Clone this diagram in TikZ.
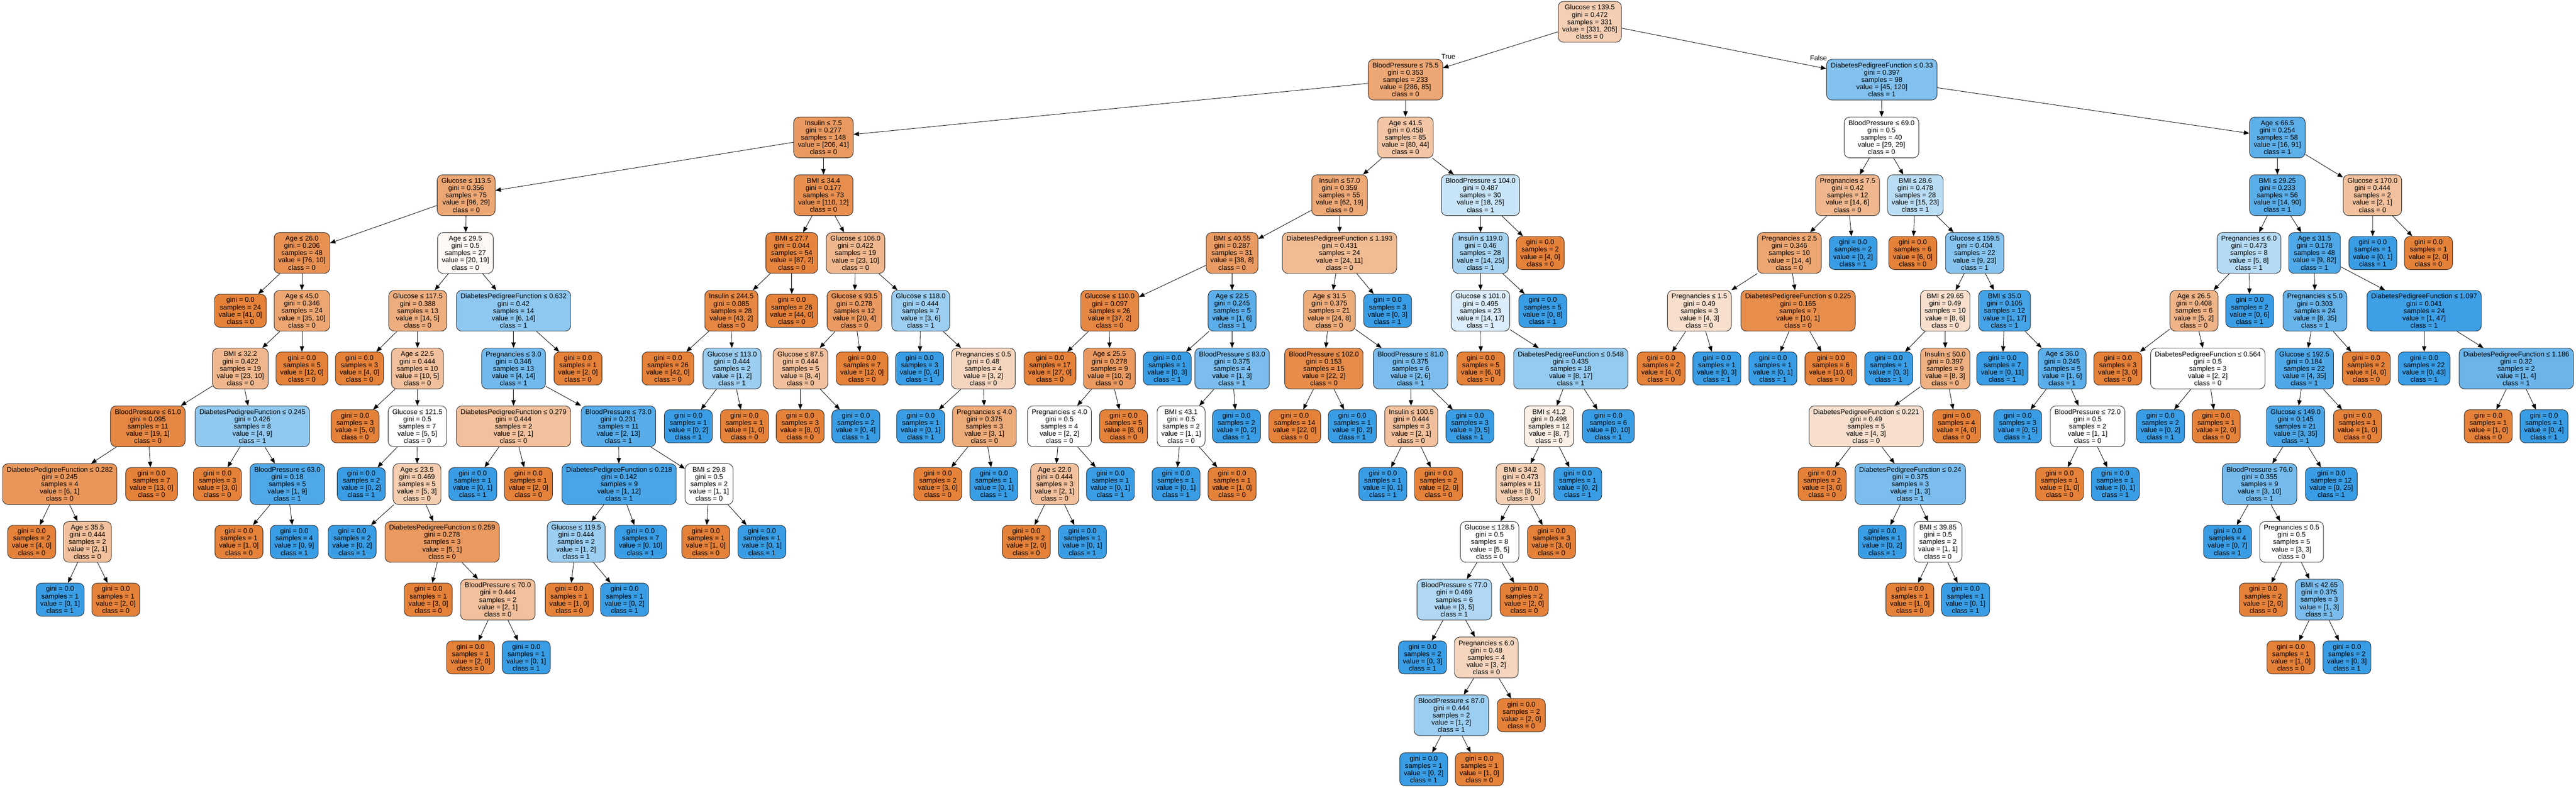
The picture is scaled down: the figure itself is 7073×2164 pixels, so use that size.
\documentclass[tikz,border=0pt]{standalone}
\usepackage{fontspec}
\setmainfont{Liberation Sans}
\usetikzlibrary{arrows.meta}
\definecolor{czero}{RGB}{229,129,57}
\definecolor{cone}{RGB}{57,157,229}
\newcommand\setfill[2]{%
  \pgfmathtruncatemacro\cmpv{(#1>=#2) ? 1 : 0}%
  \ifnum\cmpv=1\relax
    \pgfmathtruncatemacro\pctv{round((#1-#2)/#1*100)}%
    \colorlet{nodefill}{czero!\pctv!white}\def\clsv{0}%
  \else
    \pgfmathtruncatemacro\pctv{round((#2-#1)/#2*100)}%
    \colorlet{nodefill}{cone!\pctv!white}\def\clsv{1}%
  \fi}
% split node: name, parent, x, depth, condition, gini, samples, v0, v1
\newcommand\SN[9]{%
  \setfill{#8}{#9}%
  \pgfmathsetmacro\yy{(#4<13) ? 60+158.7*#4 : 2113}%
  \node[split, fill=nodefill] (#1) at (#3,\yy) {#5\\gini = #6\\samples = #7\\value = [#8, #9]\\class = \clsv};
  \ifx\relax#2\relax\else\draw[edge] (#2) -- (#1);\fi}
% leaf node: name, parent, x, depth, samples, v0, v1
\newcommand\LN[7]{%
  \setfill{#6}{#7}%
  \pgfmathsetmacro\yy{(#4<13) ? 60+158.7*#4 : 2113}%
  \node[leaf, fill=nodefill] (#1) at (#3,\yy) {gini = 0.0\\samples = #5\\value = [#6, #7]\\class = \clsv};
  \draw[edge] (#2) -- (#1);}
\tikzset{
  box/.style={draw=black!85, line width=0.26pt, rounded corners=3pt, align=center,
    inner xsep=2.3pt, inner ysep=0pt, font=\fontsize{3.78}{4}\selectfont},
  split/.style={box, minimum height=22.4pt},
  leaf/.style={box, minimum height=18.2pt},
  edge/.style={draw=black, line width=0.24pt, -{Triangle[length=3pt,width=2.4pt]}},
  elabel/.style={font=\fontsize{3.78}{4}\selectfont, inner sep=0pt}
}
\begin{document}
\begin{tikzpicture}[x=0.2pt,y=-0.2pt]
\useasboundingbox (0,0) rectangle (7073,2164);
\SN{r}{}{4365}{0}{Glucose ≤ 139.5}{0.472}{331}{331}{205}
\SN{r0}{r}{3859}{1}{BloodPressure ≤ 75.5}{0.353}{233}{286}{85}
\SN{r00}{r0}{2261}{2}{Insulin ≤ 7.5}{0.277}{148}{206}{41}
\SN{r000}{r00}{1280}{3}{Glucose ≤ 113.5}{0.356}{75}{96}{29}
\SN{r0000}{r000}{829}{4}{Age ≤ 26.0}{0.206}{48}{76}{10}
\LN{r00000}{r0000}{660}{5}{24}{41}{0}
\SN{r00001}{r0000}{829}{5}{Age ≤ 45.0}{0.346}{24}{35}{10}
\SN{r000010}{r00001}{660}{6}{BMI ≤ 32.2}{0.422}{19}{23}{10}
\SN{r0000100}{r000010}{406}{7}{BloodPressure ≤ 61.0}{0.095}{11}{19}{1}
\SN{r00001000}{r0000100}{164}{8}{DiabetesPedigreeFunction ≤ 0.282}{0.245}{4}{6}{1}
\LN{r000010000}{r00001000}{87}{9}{2}{4}{0}
\SN{r000010001}{r00001000}{240}{9}{Age ≤ 35.5}{0.444}{2}{2}{1}
\LN{r0000100010}{r000010001}{165}{10}{1}{0}{1}
\LN{r0000100011}{r000010001}{318}{10}{1}{2}{0}
\LN{r00001001}{r0000100}{416}{8}{7}{13}{0}
\SN{r0000101}{r000010}{693}{7}{DiabetesPedigreeFunction ≤ 0.245}{0.426}{8}{4}{9}
\LN{r00001010}{r0000101}{597}{8}{3}{3}{0}
\SN{r00001011}{r0000101}{789}{8}{BloodPressure ≤ 63.0}{0.18}{5}{1}{9}
\LN{r000010110}{r00001011}{656}{9}{1}{1}{0}
\LN{r000010111}{r00001011}{808}{9}{4}{0}{9}
\LN{r000011}{r00001}{829}{6}{5}{12}{0}
\SN{r0001}{r000}{1278}{4}{Age ≤ 29.5}{0.5}{27}{20}{19}
\SN{r00010}{r0001}{1147}{5}{Glucose ≤ 117.5}{0.388}{13}{14}{5}
\LN{r000100}{r00010}{987}{6}{3}{4}{0}
\SN{r000101}{r00010}{1146}{6}{Age ≤ 22.5}{0.444}{10}{10}{5}
\LN{r0001010}{r000101}{975}{7}{3}{5}{0}
\SN{r0001011}{r000101}{1146}{7}{Glucose ≤ 121.5}{0.5}{7}{5}{5}
\LN{r00010110}{r0001011}{992}{8}{2}{0}{2}
\SN{r00010111}{r0001011}{1145}{8}{Age ≤ 23.5}{0.469}{5}{5}{3}
\LN{r000101110}{r00010111}{967}{9}{2}{0}{2}
\SN{r000101111}{r00010111}{1214}{9}{DiabetesPedigreeFunction ≤ 0.259}{0.278}{3}{5}{1}
\LN{r0001011110}{r000101111}{1176}{10}{1}{3}{0}
\SN{r0001011111}{r000101111}{1367}{10}{BloodPressure ≤ 70.0}{0.444}{2}{2}{1}
\LN{r00010111110}{r0001011111}{1292}{11}{1}{2}{0}
\LN{r00010111111}{r0001011111}{1445}{11}{1}{0}{1}
\SN{r00011}{r0001}{1410}{5}{DiabetesPedigreeFunction ≤ 0.632}{0.42}{14}{6}{14}
\SN{r000110}{r00011}{1410}{6}{Pregnancies ≤ 3.0}{0.346}{13}{4}{14}
\SN{r0001100}{r000110}{1410}{7}{DiabetesPedigreeFunction ≤ 0.279}{0.444}{2}{2}{1}
\LN{r00011000}{r0001100}{1298}{8}{1}{0}{1}
\LN{r00011001}{r0001100}{1451}{8}{1}{2}{0}
\SN{r0001101}{r000110}{1698}{7}{BloodPressure ≤ 73.0}{0.231}{11}{2}{13}
\SN{r00011010}{r0001101}{1700}{8}{DiabetesPedigreeFunction ≤ 0.218}{0.142}{9}{1}{12}
\SN{r000110100}{r00011010}{1582}{9}{Glucose ≤ 119.5}{0.444}{2}{1}{2}
\LN{r0001101000}{r000110100}{1563}{10}{1}{1}{0}
\LN{r0001101001}{r000110100}{1715}{10}{1}{0}{2}
\LN{r000110101}{r00011010}{1759}{9}{7}{0}{10}
\SN{r00011011}{r0001101}{1947}{8}{BMI ≤ 29.8}{0.5}{2}{1}{1}
\LN{r000110110}{r00011011}{1938}{9}{1}{1}{0}
\LN{r000110111}{r00011011}{2092}{9}{1}{0}{1}
\LN{r000111}{r00011}{1587}{6}{1}{2}{0}
\SN{r001}{r00}{2261}{3}{BMI ≤ 34.4}{0.177}{73}{110}{12}
\SN{r0010}{r001}{2174}{4}{BMI ≤ 27.7}{0.044}{54}{87}{2}
\SN{r00100}{r0010}{2008}{5}{Insulin ≤ 244.5}{0.085}{28}{43}{2}
\LN{r001000}{r00100}{1834}{6}{26}{42}{0}
\SN{r001001}{r00100}{2010}{6}{Glucose ≤ 113.0}{0.444}{2}{1}{2}
\LN{r0010010}{r001001}{1890}{7}{1}{0}{2}
\LN{r0010011}{r001001}{2044}{7}{1}{1}{0}
\LN{r00101}{r0010}{2174}{5}{26}{44}{0}
\SN{r0011}{r001}{2349}{4}{Glucose ≤ 106.0}{0.422}{19}{23}{10}
\SN{r00110}{r0011}{2346}{5}{Glucose ≤ 93.5}{0.278}{12}{20}{4}
\SN{r001100}{r00110}{2198}{6}{Glucose ≤ 87.5}{0.444}{5}{8}{4}
\LN{r0011000}{r001100}{2197}{7}{3}{8}{0}
\LN{r0011001}{r001100}{2350}{7}{2}{0}{4}
\LN{r001101}{r00110}{2367}{6}{7}{12}{0}
\SN{r00111}{r0011}{2528}{5}{Glucose ≤ 118.0}{0.444}{7}{3}{6}
\LN{r001110}{r00111}{2525}{6}{3}{0}{4}
\SN{r001111}{r00111}{2700}{6}{Pregnancies ≤ 0.5}{0.48}{4}{3}{2}
\LN{r0011110}{r001111}{2528}{7}{1}{0}{1}
\SN{r0011111}{r001111}{2703}{7}{Pregnancies ≤ 4.0}{0.375}{3}{3}{1}
\LN{r00111110}{r0011111}{2575}{8}{2}{3}{0}
\LN{r00111111}{r0011111}{2729}{8}{1}{0}{1}
\SN{r01}{r0}{3859}{2}{Age ≤ 41.5}{0.458}{85}{80}{44}
\SN{r010}{r01}{3678}{3}{Insulin ≤ 57.0}{0.359}{55}{62}{19}
\SN{r0100}{r010}{3383}{4}{BMI ≤ 40.55}{0.287}{31}{38}{8}
\SN{r01000}{r0100}{3047}{5}{Glucose ≤ 110.0}{0.097}{26}{37}{2}
\LN{r010000}{r01000}{2883}{6}{17}{27}{0}
\SN{r010001}{r01000}{3046}{6}{Age ≤ 25.5}{0.278}{9}{10}{2}
\SN{r0100010}{r010001}{2909}{7}{Pregnancies ≤ 4.0}{0.5}{4}{2}{2}
\SN{r01000100}{r0100010}{2896}{8}{Age ≤ 22.0}{0.444}{3}{2}{1}
\LN{r010001000}{r01000100}{2818}{9}{2}{2}{0}
\LN{r010001001}{r01000100}{2972}{9}{1}{0}{1}
\LN{r01000101}{r0100010}{3049}{8}{1}{0}{1}
\LN{r0100011}{r010001}{3085}{7}{5}{8}{0}
\SN{r01001}{r0100}{3383}{5}{Age ≤ 22.5}{0.245}{5}{1}{6}
\LN{r010010}{r01001}{3205}{6}{1}{0}{3}
\SN{r010011}{r01001}{3383}{6}{BloodPressure ≤ 83.0}{0.375}{4}{1}{3}
\SN{r0100110}{r010011}{3243}{7}{BMI ≤ 43.1}{0.5}{2}{1}{1}
\LN{r01001100}{r0100110}{3229}{8}{1}{0}{1}
\LN{r01001101}{r0100110}{3383}{8}{1}{1}{0}
\LN{r0100111}{r010011}{3395}{7}{2}{0}{2}
\SN{r0101}{r010}{3678}{4}{DiabetesPedigreeFunction ≤ 1.193}{0.431}{24}{24}{11}
\SN{r01010}{r0101}{3650}{5}{Age ≤ 31.5}{0.375}{21}{24}{8}
\SN{r010100}{r01010}{3635}{6}{BloodPressure ≤ 102.0}{0.153}{15}{22}{2}
\LN{r0101000}{r010100}{3555}{7}{14}{22}{0}
\LN{r0101001}{r010100}{3713}{7}{1}{0}{2}
\SN{r010101}{r01010}{3873}{6}{BloodPressure ≤ 81.0}{0.375}{6}{2}{6}
\SN{r0101010}{r010101}{3875}{7}{Insulin ≤ 100.5}{0.444}{3}{2}{1}
\LN{r01010100}{r0101010}{3797}{8}{1}{0}{1}
\LN{r01010101}{r0101010}{3950}{8}{2}{2}{0}
\LN{r0101011}{r010101}{4036}{7}{3}{0}{5}
\LN{r01011}{r0101}{3810}{5}{3}{0}{3}
\SN{r011}{r01}{4065}{3}{BloodPressure ≤ 104.0}{0.487}{30}{18}{25}
\SN{r0110}{r011}{4065}{4}{Insulin ≤ 119.0}{0.46}{28}{14}{25}
\SN{r01100}{r0110}{4065}{5}{Glucose ≤ 101.0}{0.495}{23}{14}{17}
\LN{r011000}{r01100}{4066}{6}{5}{6}{0}
\SN{r011001}{r01100}{4313}{6}{DiabetesPedigreeFunction ≤ 0.548}{0.435}{18}{8}{17}
\SN{r0110010}{r011001}{4253}{7}{BMI ≤ 41.2}{0.498}{12}{8}{7}
\SN{r01100100}{r0110010}{4175}{8}{BMI ≤ 34.2}{0.473}{11}{8}{5}
\SN{r011001000}{r01100100}{4090}{9}{Glucose ≤ 128.5}{0.5}{8}{5}{5}
\SN{r0110010000}{r011001000}{3993}{10}{BloodPressure ≤ 77.0}{0.469}{6}{3}{5}
\LN{r01100100000}{r0110010000}{3906}{11}{2}{0}{3}
\SN{r01100100001}{r0110010000}{4081}{11}{Pregnancies ≤ 6.0}{0.48}{4}{3}{2}
\SN{r011001000010}{r01100100001}{3985}{12}{BloodPressure ≤ 87.0}{0.444}{2}{1}{2}
\LN{r0110010000100}{r011001000010}{3909}{13}{1}{0}{2}
\LN{r0110010000101}{r011001000010}{4062}{13}{1}{1}{0}
\LN{r011001000011}{r01100100001}{4177}{12}{2}{2}{0}
\LN{r0110010001}{r011001000}{4185}{10}{2}{2}{0}
\LN{r011001001}{r01100100}{4260}{9}{3}{3}{0}
\LN{r01100101}{r0110010}{4332}{8}{1}{0}{2}
\LN{r0110011}{r011001}{4416}{7}{6}{0}{10}
\LN{r01101}{r0110}{4236}{5}{5}{0}{8}
\LN{r0111}{r011}{4229}{4}{2}{4}{0}
\SN{r1}{r}{5167}{1}{DiabetesPedigreeFunction ≤ 0.33}{0.397}{98}{45}{120}
\SN{r10}{r1}{5166}{2}{BloodPressure ≤ 69.0}{0.5}{40}{29}{29}
\SN{r100}{r10}{5073}{3}{Pregnancies ≤ 7.5}{0.42}{12}{14}{6}
\SN{r1000}{r100}{4913}{4}{Pregnancies ≤ 2.5}{0.346}{10}{14}{4}
\SN{r10000}{r1000}{4666}{5}{Pregnancies ≤ 1.5}{0.49}{3}{4}{3}
\LN{r100000}{r10000}{4561}{6}{2}{4}{0}
\LN{r100001}{r10000}{4714}{6}{1}{0}{3}
\SN{r10001}{r1000}{4937}{5}{DiabetesPedigreeFunction ≤ 0.225}{0.165}{7}{10}{1}
\LN{r100010}{r10001}{4868}{6}{1}{0}{1}
\LN{r100011}{r10001}{5027}{6}{6}{10}{0}
\LN{r1001}{r100}{5088}{4}{2}{0}{2}
\SN{r101}{r10}{5259}{3}{BMI ≤ 28.6}{0.478}{28}{15}{23}
\LN{r1010}{r101}{5252}{4}{6}{6}{0}
\SN{r1011}{r101}{5422}{4}{Glucose ≤ 159.5}{0.404}{22}{9}{23}
\SN{r10110}{r1011}{5341}{5}{BMI ≤ 29.65}{0.49}{10}{8}{6}
\LN{r101100}{r10110}{5186}{6}{1}{0}{3}
\SN{r101101}{r10110}{5341}{6}{Insulin ≤ 50.0}{0.397}{9}{8}{3}
\SN{r1011010}{r101101}{5124}{7}{DiabetesPedigreeFunction ≤ 0.221}{0.49}{5}{4}{3}
\LN{r10110100}{r1011010}{5003}{8}{2}{3}{0}
\SN{r10110101}{r1011010}{5245}{8}{DiabetesPedigreeFunction ≤ 0.24}{0.375}{3}{1}{3}
\LN{r101101010}{r10110101}{5168}{9}{1}{0}{2}
\SN{r101101011}{r10110101}{5321}{9}{BMI ≤ 39.85}{0.5}{2}{1}{1}
\LN{r1011010110}{r101101011}{5244}{10}{1}{1}{0}
\LN{r1011010111}{r101101011}{5397}{10}{1}{0}{1}
\LN{r1011011}{r101101}{5372}{7}{4}{4}{0}
\SN{r10111}{r1011}{5504}{5}{BMI ≤ 35.0}{0.105}{12}{1}{17}
\LN{r101110}{r10111}{5498}{6}{7}{0}{11}
\SN{r101111}{r10111}{5662}{6}{Age ≤ 36.0}{0.245}{5}{1}{6}
\LN{r1011110}{r101111}{5540}{7}{3}{0}{5}
\SN{r1011111}{r101111}{5732}{7}{BloodPressure ≤ 72.0}{0.5}{2}{1}{1}
\LN{r10111110}{r1011111}{5655}{8}{1}{1}{0}
\LN{r10111111}{r1011111}{5808}{8}{1}{0}{1}
\SN{r11}{r1}{6253}{2}{Age ≤ 66.5}{0.254}{58}{16}{91}
\SN{r110}{r11}{6253}{3}{BMI ≤ 29.25}{0.233}{56}{14}{90}
\SN{r1100}{r110}{6175}{4}{Pregnancies ≤ 6.0}{0.473}{8}{5}{8}
\SN{r11000}{r1100}{6024}{5}{Age ≤ 26.5}{0.408}{6}{5}{2}
\LN{r110000}{r11000}{5815}{6}{3}{3}{0}
\SN{r110001}{r11000}{6062}{6}{DiabetesPedigreeFunction ≤ 0.564}{0.5}{3}{2}{2}
\LN{r1100010}{r110001}{5932}{7}{2}{0}{2}
\LN{r1100011}{r110001}{6085}{7}{1}{2}{0}
\LN{r11001}{r1100}{6177}{5}{2}{0}{6}
\SN{r1101}{r110}{6355}{4}{Age ≤ 31.5}{0.178}{48}{9}{82}
\SN{r11010}{r1101}{6356}{5}{Pregnancies ≤ 5.0}{0.303}{24}{8}{35}
\SN{r110100}{r11010}{6327}{6}{Glucose ≤ 192.5}{0.184}{22}{4}{35}
\SN{r1101000}{r110100}{6303}{7}{Glucose ≤ 149.0}{0.145}{21}{3}{35}
\SN{r11010000}{r1101000}{6204}{8}{BloodPressure ≤ 76.0}{0.355}{9}{3}{10}
\LN{r110100000}{r11010000}{6116}{9}{4}{0}{7}
\SN{r110100001}{r11010000}{6292}{9}{Pregnancies ≤ 0.5}{0.5}{5}{3}{3}
\LN{r1101000010}{r110100001}{6214}{10}{2}{2}{0}
\SN{r1101000011}{r110100001}{6368}{10}{BMI ≤ 42.65}{0.375}{3}{1}{3}
\LN{r11010000110}{r1101000011}{6290}{11}{1}{1}{0}
\LN{r11010000111}{r1101000011}{6444}{11}{2}{0}{3}
\LN{r11010001}{r1101000}{6401}{8}{12}{0}{25}
\LN{r1101001}{r110100}{6473}{7}{1}{1}{0}
\LN{r110101}{r11010}{6497}{6}{2}{4}{0}
\SN{r11011}{r1101}{6656}{5}{DiabetesPedigreeFunction ≤ 1.097}{0.041}{24}{1}{47}
\LN{r110110}{r11011}{6656}{6}{22}{0}{43}
\SN{r110111}{r11011}{6909}{6}{DiabetesPedigreeFunction ≤ 1.186}{0.32}{2}{1}{4}
\LN{r1101110}{r110111}{6832}{7}{1}{1}{0}
\LN{r1101111}{r110111}{6985}{7}{1}{0}{4}
\SN{r111}{r11}{6514}{3}{Glucose ≤ 170.0}{0.444}{2}{2}{1}
\LN{r1110}{r111}{6515}{4}{1}{0}{1}
\LN{r1111}{r111}{6668}{4}{1}{2}{0}
\node[elabel] (ltrue) at (3977,155) {True};
\node[elabel] (lfalse) at (4993,159) {False};
\end{tikzpicture}
\end{document}
